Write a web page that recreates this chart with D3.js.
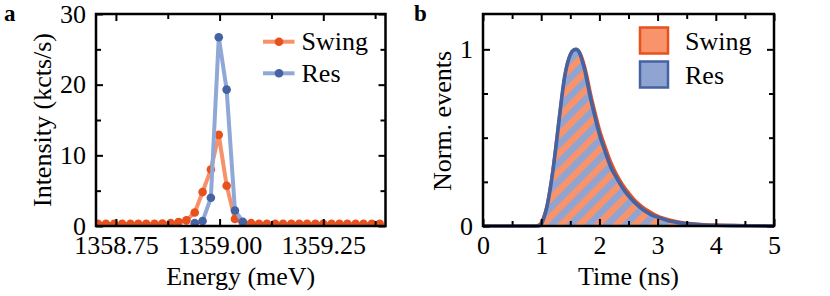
<!DOCTYPE html>
<html>
<head>
<meta charset="utf-8">
<script src="https://cdn.jsdelivr.net/npm/d3@7"></script>
<style>
  body { margin: 0; background: white; }
  svg { display: block; }
  svg text { font-family: "Liberation Serif", "Times New Roman", Times, "Nimbus Roman", "Noto Serif", "DejaVu Serif", FreeSerif, Tinos, serif; }
</style>
</head>
<body>
<div id="chart"></div>
<script>
var serif = '"Liberation Serif", "Times New Roman", Times, "Nimbus Roman", "Noto Serif", "DejaVu Serif", FreeSerif, Tinos, serif';

// panel a : emission spectra
var energy = [1358.707, 1358.726, 1358.746, 1358.765, 1358.785, 1358.804, 1358.823, 1358.843, 1358.862,
  1358.882, 1358.901, 1358.920, 1358.940, 1358.959, 1358.979, 1358.998, 1359.017, 1359.037, 1359.056,
  1359.076, 1359.095, 1359.114, 1359.134, 1359.153, 1359.173, 1359.192, 1359.211, 1359.231, 1359.250,
  1359.270, 1359.289, 1359.308, 1359.328, 1359.347, 1359.367, 1359.386];
var swingIntensity = [0.3, 0.3, 0.3, 0.3, 0.3, 0.3, 0.3, 0.3, 0.35, 0.4, 0.55, 0.8, 1.9, 4.8, 8.0, 12.9,
  5.7, 1.0, 0.5, 0.4, 0.3, 0.3, 0.3, 0.3, 0.3, 0.3, 0.3, 0.3, 0.3, 0.3, 0.3, 0.3, 0.3, 0.3, 0.3, 0.3];
var resEnergy = [1358.940, 1358.959, 1358.979, 1358.998, 1359.017, 1359.037, 1359.056];
var resIntensity = [0.4, 0.7, 4.0, 26.7, 19.3, 2.2, 0.6];
var energyMajor = [1358.75, 1359.00, 1359.25];
var energyMinor = [1358.875, 1359.125, 1359.375];
var intensityMajor = [0, 10, 20, 30];
var intensityMinor = [5, 15, 25];

// panel b : time traces
var time = [0, 0.5, 0.9, 0.95, 1.0, 1.05, 1.1, 1.15, 1.2, 1.25, 1.3, 1.35, 1.4, 1.45, 1.5, 1.55, 1.6,
  1.65, 1.7, 1.75, 1.8, 1.85, 1.9, 2.0, 2.1, 2.2, 2.3, 2.4, 2.5, 2.6, 2.7, 2.8, 2.9, 3.0, 3.2, 3.4, 3.6,
  3.8, 4.0, 4.3, 4.6, 5.0];
var swingEvents = [0, 0, 0, 0.005, 0.02, 0.06, 0.12, 0.21, 0.32, 0.45, 0.59, 0.72, 0.84, 0.92, 0.97,
  0.995, 1.0, 0.99, 0.955, 0.9, 0.83, 0.75, 0.68, 0.55, 0.45, 0.36, 0.29, 0.235, 0.19, 0.15, 0.12,
  0.095, 0.075, 0.058, 0.036, 0.022, 0.014, 0.009, 0.006, 0.004, 0.001, 0];
var resEvents = [0, 0, 0, 0, 0.01, 0.05, 0.11, 0.2, 0.31, 0.44, 0.58, 0.72, 0.84, 0.92, 0.97, 0.995,
  1.0, 0.985, 0.94, 0.88, 0.8, 0.72, 0.65, 0.52, 0.42, 0.33, 0.27, 0.215, 0.17, 0.135, 0.105, 0.08,
  0.062, 0.05, 0.028, 0.017, 0.01, 0.006, 0.004, 0.002, 0.001, 0];
var timeMajor = [0, 1, 2, 3, 4, 5];
var timeMinor = [0.5, 1.5, 2.5, 3.5, 4.5];
var eventsMajor = [0, 1];
var eventsMinor = [0.25, 0.5, 0.75];

var orange = '#e8501e', orangeLine = '#f6916b', orangeFill = '#f9936b';
var blue = '#4562a2', blueLine = '#8fa8d6', blueFill = '#8fa4d1';

var svg = d3.select('#chart').append('svg')
  .attr('width', 830)
  .attr('height', 296)
  .attr('font-family', serif);

var defs = svg.append('defs');

var stripes = defs.append('pattern')
  .attr('id', 'stripes')
  .attr('patternUnits', 'userSpaceOnUse')
  .attr('width', 13)
  .attr('height', 13)
  .attr('patternTransform', 'rotate(45)');
stripes.append('rect')
  .attr('width', 6.5)
  .attr('height', 13)
  .attr('fill', blueFill);

function frame(g, x, y, xMajor, xMinor, yMajor, yMinor, xFmt, yFmt) {
  var w = x.range()[1] - x.range()[0];
  var h = y.range()[0] - y.range()[1];
  var major = 7, minor = 5;

  g.append('rect')
    .attr('x', x.range()[0])
    .attr('y', y.range()[1])
    .attr('width', w)
    .attr('height', h)
    .attr('fill', 'none')
    .attr('stroke', 'black')
    .attr('stroke-width', 2.5);

  var axes = [
    [d3.axisBottom(x).tickValues(xMajor).tickSize(-major).tickPadding(10).tickFormat(xFmt), 'translate(0,' + y.range()[0] + ')'],
    [d3.axisBottom(x).tickValues(xMinor).tickSize(-minor).tickFormat(''), 'translate(0,' + y.range()[0] + ')'],
    [d3.axisTop(x).tickValues(xMajor).tickSize(-major).tickFormat(''), 'translate(0,' + y.range()[1] + ')'],
    [d3.axisTop(x).tickValues(xMinor).tickSize(-minor).tickFormat(''), 'translate(0,' + y.range()[1] + ')'],
    [d3.axisLeft(y).tickValues(yMajor).tickSize(-major).tickPadding(10).tickFormat(yFmt), 'translate(' + x.range()[0] + ',0)'],
    [d3.axisLeft(y).tickValues(yMinor).tickSize(-minor).tickFormat(''), 'translate(' + x.range()[0] + ',0)'],
    [d3.axisRight(y).tickValues(yMajor).tickSize(-major).tickFormat(''), 'translate(' + x.range()[1] + ',0)'],
    [d3.axisRight(y).tickValues(yMinor).tickSize(-minor).tickFormat(''), 'translate(' + x.range()[1] + ',0)']
  ];
  axes.forEach(function(a) {
    var ax = g.append('g').attr('transform', a[1]).call(a[0]);
    ax.attr('font-family', serif);
    ax.select('.domain').remove();
    ax.selectAll('line').attr('stroke', 'black').attr('stroke-width', 2);
    ax.selectAll('text')
      .attr('fill', 'black')
      .attr('font-size', 26);
  });
}

// ---------------- panel a ----------------
var xa = d3.scaleLinear().domain([1358.702, 1359.40]).range([96, 385.5]);
var ya = d3.scaleLinear().domain([0, 30]).range([226, 14]);

defs.append('clipPath').attr('id', 'clipA').append('rect')
  .attr('x', 96).attr('y', 14).attr('width', 289.5).attr('height', 212);

var ga = svg.append('g');
var plotA = ga.append('g').attr('clip-path', 'url(#clipA)');

var seriesA = [
  {x: energy, y: swingIntensity, line: orangeLine, dot: orange},
  {x: resEnergy, y: resIntensity, line: blueLine, dot: blue}
];
var lineA = d3.line().x(function(d) {return xa(d[0]);}).y(function(d) {return ya(d[1]);});

seriesA.forEach(function(s) {
  var pts = d3.zip(s.x, s.y);
  plotA.append('path')
    .attr('d', lineA(pts))
    .attr('fill', 'none')
    .attr('stroke', s.line)
    .attr('stroke-width', 4)
    .attr('stroke-linejoin', 'round');
  plotA.selectAll(null).data(pts).enter().append('circle')
    .attr('cx', function(d) {return xa(d[0]);})
    .attr('cy', function(d) {return ya(d[1]);})
    .attr('r', 4.3)
    .attr('fill', s.dot);
});

frame(ga, xa, ya, energyMajor, energyMinor, intensityMajor, intensityMinor, d3.format('.2f'), d3.format('d'));

ga.append('text')
  .attr('transform', 'translate(51,120) rotate(-90)')
  .attr('text-anchor', 'middle')
  .attr('font-size', 26)
  .text('Intensity (kcts/s)');
ga.append('text')
  .attr('x', 240.75)
  .attr('y', 285)
  .attr('text-anchor', 'middle')
  .attr('font-size', 26)
  .text('Energy (meV)');
ga.append('text')
  .attr('x', 4)
  .attr('y', 21)
  .attr('font-size', 23)
  .attr('font-weight', 'bold')
  .text('a');

var legA = ga.append('g');
[['Swing', orangeLine, orange, 41.7], ['Res', blueLine, blue, 73.3]].forEach(function(e) {
  legA.append('line')
    .attr('x1', 263).attr('x2', 294.5)
    .attr('y1', e[3]).attr('y2', e[3])
    .attr('stroke', e[1]).attr('stroke-width', 4);
  legA.append('circle')
    .attr('cx', 279).attr('cy', e[3]).attr('r', 4.3).attr('fill', e[2]);
  legA.append('text')
    .attr('x', 301.5).attr('y', e[3] + 8.5)
    .attr('font-size', 26)
    .text(e[0]);
});

// ---------------- panel b ----------------
var xb = d3.scaleLinear().domain([0, 5]).range([483, 774]);
var yb = d3.scaleLinear().domain([0, 1.2]).range([226, 14]);

var gb = svg.append('g');
var area = d3.area().curve(d3.curveMonotoneX)
  .x(function(d) {return xb(d[0]);}).y0(yb(0)).y1(function(d) {return yb(d[1]);});
var lineB = d3.line().curve(d3.curveMonotoneX)
  .x(function(d) {return xb(d[0]);}).y(function(d) {return yb(d[1]);});

var swingPts = d3.zip(time, swingEvents);
var resPts = d3.zip(time, resEvents);

gb.append('path').attr('d', area(swingPts)).attr('fill', orangeFill);
gb.append('path').attr('d', area(resPts)).attr('fill', 'url(#stripes)');
gb.append('path').attr('d', lineB(swingPts))
  .attr('fill', 'none').attr('stroke', orange).attr('stroke-width', 3).attr('stroke-linejoin', 'round');
gb.append('path').attr('d', lineB(resPts))
  .attr('fill', 'none').attr('stroke', blue).attr('stroke-width', 3.6).attr('stroke-linejoin', 'round');

frame(gb, xb, yb, timeMajor, timeMinor, eventsMajor, eventsMinor, d3.format('d'), d3.format('d'));

gb.append('text')
  .attr('transform', 'translate(451,121) rotate(-90)')
  .attr('text-anchor', 'middle')
  .attr('font-size', 26)
  .text('Norm. events');
gb.append('text')
  .attr('x', 628.5)
  .attr('y', 285)
  .attr('text-anchor', 'middle')
  .attr('font-size', 26)
  .text('Time (ns)');
gb.append('text')
  .attr('x', 414)
  .attr('y', 21)
  .attr('font-size', 23)
  .attr('font-weight', 'bold')
  .text('b');

var legB = gb.append('g');
[['Swing', orangeFill, orange, 27.5], ['Res', blueFill, blue, 61.5]].forEach(function(e) {
  legB.append('rect')
    .attr('x', 640).attr('y', e[3])
    .attr('width', 28).attr('height', 26)
    .attr('fill', e[1]).attr('stroke', e[2]).attr('stroke-width', 2.5);
  legB.append('text')
    .attr('x', 685).attr('y', e[3] + 22)
    .attr('font-size', 26)
    .text(e[0]);
});
</script>
</body>
</html>
